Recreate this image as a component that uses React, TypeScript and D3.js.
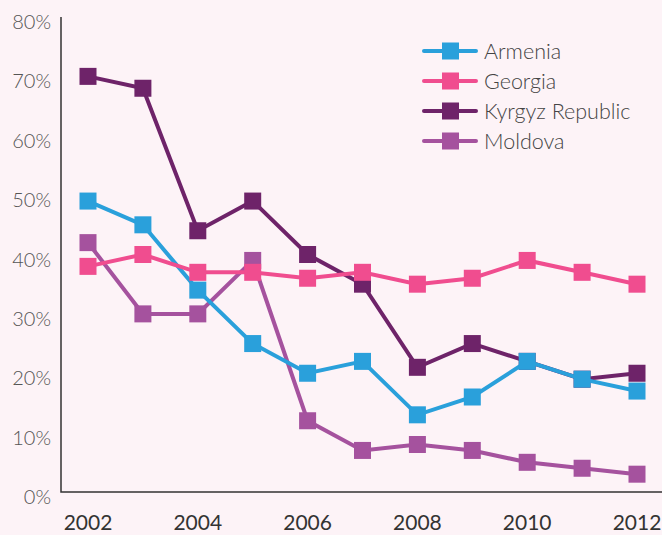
import React, { useEffect, useRef } from 'react';
import * as d3 from 'd3';

const years = [2002, 2003, 2004, 2005, 2006, 2007, 2008, 2009, 2010, 2011, 2012];
const tickYears = [2002, 2004, 2006, 2008, 2010, 2012];
const yTicks = [0, 10, 20, 30, 40, 50, 60, 70, 80];

const armenia = [49, 45, 34, 25, 20, 22, 13, 16, 22, 19, 17];
const georgia = [38, 40, 37, 37, 36, 37, 35, 36, 39, 37, 35];
const kyrgyz = [70, 68, 44, 49, 40, 35, 21, 25, 22, 19, 20];
const moldova = [42, 30, 30, 39, 12, 7, 8, 7, 5, 4, 3];

const seriesNames = ['Armenia', 'Georgia', 'Kyrgyz Republic', 'Moldova'];
const seriesColors = ['#2aa0db', '#f04d8f', '#6e2369', '#a5529e'];
const seriesValues = [armenia, georgia, kyrgyz, moldova];
// drawing order, back to front
const drawOrder = [3, 2, 0, 1];

const W = 662;
const H = 535;

const Chart: React.FC = () => {
  const svgRef = useRef<SVGSVGElement | null>(null);

  useEffect(() => {
    if (!svgRef.current) return;
    const svg = d3.select(svgRef.current);
    svg.selectAll('*').remove();

    const x = d3.scaleLinear().domain([2002, 2012]).range([88, 637]);
    const y = d3.scaleLinear().domain([0, 80]).range([492, 17]);
    const font = 'Lato, "Open Sans", sans-serif';
    const size = 17;

    svg.append('rect').attr('width', W).attr('height', H).attr('fill', '#fdf3f7');

    // y axis labels
    svg
      .selectAll('.ylab')
      .data(yTicks)
      .enter()
      .append('text')
      .attr('x', 51)
      .attr('y', (d) => y(d) + 5)
      .attr('dy', '0.35em')
      .attr('text-anchor', 'end')
      .style('font-family', font)
      .style('font-size', '20px')
      .style('font-weight', 300)
      .attr('fill', '#555')
      .text((d) => `${d}%`);

    // x axis labels
    svg
      .selectAll('.xlab')
      .data(tickYears)
      .enter()
      .append('text')
      .attr('x', (d) => x(d))
      .attr('y', 523)
      .attr('dy', '0.35em')
      .attr('text-anchor', 'middle')
      .style('font-family', font)
      .style('font-size', '21px')
      .attr('fill', '#333')
      .text((d) => d);

    // axis lines
    svg
      .append('path')
      .attr('d', `M61,17 V${y(0)} H${W}`)
      .attr('fill', 'none')
      .attr('stroke', '#333')
      .attr('stroke-width', 1.5);

    const line = d3
      .line<number>()
      .x((_d, i) => x(years[i]))
      .y((d) => y(d));

    drawOrder.forEach((s) => {
      const g = svg.append('g');
      g.append('path')
        .attr('d', line(seriesValues[s]))
        .attr('fill', 'none')
        .attr('stroke', seriesColors[s])
        .attr('stroke-width', 4);
      g.selectAll('rect')
        .data(seriesValues[s])
        .enter()
        .append('rect')
        .attr('x', (_d, i) => x(years[i]) - size / 2)
        .attr('y', (d) => y(d) - size / 2)
        .attr('width', size)
        .attr('height', size)
        .attr('fill', seriesColors[s]);
    });

    // legend
    const legend = svg
      .selectAll('.legend')
      .data(seriesNames)
      .enter()
      .append('g')
      .attr('class', 'legend')
      .attr('transform', (_d, i) => `translate(0,${51 + i * 30})`);

    legend
      .append('line')
      .attr('x1', 424)
      .attr('x2', 476)
      .attr('stroke', (_d, i) => seriesColors[i])
      .attr('stroke-width', 4)
      .attr('stroke-linecap', 'round');

    legend
      .append('rect')
      .attr('x', 450.5 - size / 2)
      .attr('y', -size / 2)
      .attr('width', size)
      .attr('height', size)
      .attr('fill', (_d, i) => seriesColors[i]);

    legend
      .append('text')
      .attr('x', 484)
      .attr('dy', '0.35em')
      .style('font-family', font)
      .style('font-size', '21.5px')
      .style('font-weight', 300)
      .attr('fill', '#444')
      .text((d) => d);
  }, []);

  return (
    <svg
      ref={svgRef}
      width={W}
      height={H}
      viewBox={`0 0 ${W} ${H}`}
      style={{ position: 'absolute', left: 0, top: 0 }}
    ></svg>
  );
};

export default function App() {
  return <Chart />;
}
